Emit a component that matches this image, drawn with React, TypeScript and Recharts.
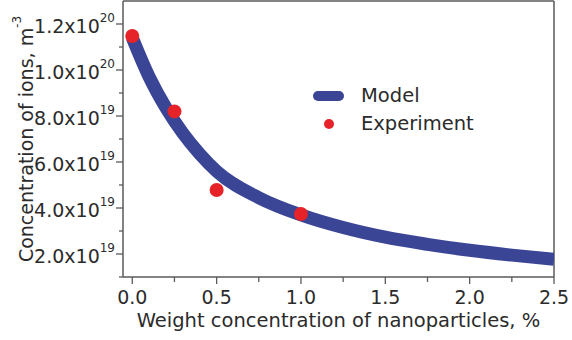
import React from 'react';
import { ComposedChart, Line, Scatter, XAxis, YAxis, ReferenceLine, Legend } from 'recharts';

const modelX = [0, 0.1, 0.2, 0.3, 0.4, 0.5, 0.75, 1.0, 1.25, 1.5, 1.75, 2.0, 2.25, 2.5];
const modelY = [1.14e20, 0.97e20, 0.835e20, 0.725e20, 0.635e20, 0.56e20, 0.445e20, 0.37e20, 0.315e20, 0.273e20, 0.242e20, 0.216e20, 0.195e20, 0.177e20];
const expX = [0, 0.25, 0.5, 1.0];
const expY = [1.148e20, 0.82e20, 0.478e20, 0.374e20];

const xMajorTicks = [0, 0.5, 1.0, 1.5, 2.0, 2.5];
const xTickLabels = ['0.0', '0.5', '1.0', '1.5', '2.0', '2.5'];
const xMinorTicks = [0.25, 0.75, 1.25, 1.75, 2.25];

const yMajorTicks = [2e19, 4e19, 6e19, 8e19, 1e20, 1.2e20];
const yMantissas = ['2.0', '4.0', '6.0', '8.0', '1.0', '1.2'];
const yExponents = ['19', '19', '19', '19', '20', '20'];
const yMinorTicks = [1e19, 3e19, 5e19, 7e19, 9e19, 1.1e20];

const X_DOMAIN: [number, number] = [-0.055, 2.5];
const Y_DOMAIN: [number, number] = [1e19, 1.3e20];

const modelData = modelX.map((x, i) => ({ x, y: modelY[i] }));
const expData = expX.map((x, i) => ({ x, y: expY[i] }));
const xTicks = [...xMajorTicks, ...xMinorTicks].sort((a, b) => a - b);
const yTicks = [...yMajorTicks, ...yMinorTicks].sort((a, b) => a - b);

const FONT = "'DejaVu Sans', sans-serif";
const TEXT = '#2b2b2b';
const AXIS = '#5a5a5a';
const BLUE = '#3b4596';
const RED = '#e52329';

const YTick = (props: any) => {
  const { x, y, payload } = props;
  const v = payload.value;
  const idx = yMajorTicks.findIndex((t) => Math.abs(t - v) < 1e15);
  if (idx < 0) {
    return <line x1={x - 4} x2={x} y1={y} y2={y} stroke={AXIS} strokeWidth={1.3} />;
  }
  return (
    <g>
      <line x1={x - 7} x2={x} y1={y} y2={y} stroke={AXIS} strokeWidth={1.3} />
      <text x={x - 8} y={y + 9} textAnchor="end" fontFamily={FONT} fontSize={19} fill={TEXT}>
        {yMantissas[idx]}x10
        <tspan dy={-11} fontSize={12}>{yExponents[idx]}</tspan>
      </text>
    </g>
  );
};

const XTick = (props: any) => {
  const { x, y, payload } = props;
  const v = payload.value;
  const idx = xMajorTicks.findIndex((t) => Math.abs(t - v) < 1e-6);
  if (idx < 0) {
    return <line x1={x} x2={x} y1={y} y2={y + 5} stroke={AXIS} strokeWidth={1.3} />;
  }
  return (
    <g>
      <line x1={x} x2={x} y1={y} y2={y + 7} stroke={AXIS} strokeWidth={1.3} />
      <text x={x} y={y + 27} textAnchor="middle" fontFamily={FONT} fontSize={19} fill={TEXT}>
        {xTickLabels[idx]}
      </text>
    </g>
  );
};

const XLabel = (props: any) => {
  const vb = props.viewBox;
  return (
    <text x={vb.x + vb.width / 2} y={vb.y + 50} textAnchor="middle" fontFamily={FONT} fontSize={19.5} fill={TEXT}>
      Weight concentration of nanoparticles, %
    </text>
  );
};

const YLabel = (props: any) => {
  const vb = props.viewBox;
  const cy = vb.y + vb.height / 2;
  return (
    <text transform={`translate(33, ${cy}) rotate(-90)`} x={0} y={0} textAnchor="middle" fontFamily={FONT} fontSize={19} fill={TEXT}>
      Concentration of ions, m
      <tspan dy={-12} fontSize={12}>-3</tspan>
    </text>
  );
};

const LegendContent = () => (
  <div style={{ fontFamily: FONT, fontSize: 19.5, color: TEXT }}>
    <div style={{ display: 'flex', alignItems: 'center', height: 28 }}>
      <div style={{ width: 31, display: 'flex', justifyContent: 'center' }}>
        <div style={{ width: 31, height: 10, borderRadius: 5, background: BLUE }} />
      </div>
      <span style={{ marginLeft: 17, lineHeight: '28px' }}>Model</span>
    </div>
    <div style={{ display: 'flex', alignItems: 'center', height: 28 }}>
      <div style={{ width: 31, display: 'flex', justifyContent: 'center' }}>
        <div style={{ width: 10, height: 10, borderRadius: 5, background: RED }} />
      </div>
      <span style={{ marginLeft: 17, lineHeight: '28px' }}>Experiment</span>
    </div>
  </div>
);

const RedDot = (props: any) => <circle cx={props.cx} cy={props.cy} r={7} fill={RED} />;

export default function App() {
  return (
    <div style={{ position: 'absolute', left: 0, top: 0, width: 572, height: 340, background: '#fff' }}>
      <ComposedChart width={572} height={340} margin={{ top: 1, right: 18, bottom: 0, left: 0 }}>
        <XAxis
          type="number"
          dataKey="x"
          domain={X_DOMAIN}
          allowDataOverflow
          ticks={xTicks}
          interval={0}
          tick={<XTick />}
          tickLine={false}
          tickSize={0}
          tickMargin={0}
          height={63}
          axisLine={{ stroke: AXIS, strokeWidth: 1.5 }}
          label={<XLabel />}
        />
        <YAxis
          type="number"
          dataKey="y"
          domain={Y_DOMAIN}
          allowDataOverflow
          ticks={yTicks}
          interval={0}
          tick={<YTick />}
          tickLine={false}
          tickSize={0}
          tickMargin={0}
          width={123}
          axisLine={{ stroke: AXIS, strokeWidth: 1.5 }}
          label={<YLabel />}
        />
        <ReferenceLine y={Y_DOMAIN[1]} stroke={AXIS} strokeWidth={1.5} />
        <ReferenceLine x={X_DOMAIN[1]} stroke={AXIS} strokeWidth={1.5} />
        <Line
          data={modelData}
          dataKey="y"
          type="monotone"
          stroke={BLUE}
          strokeWidth={13}
          dot={false}
          activeDot={false}
          isAnimationActive={false}
          legendType="none"
        />
        <Scatter data={expData} dataKey="y" shape={<RedDot />} isAnimationActive={false} legendType="none" />
        <Legend
          layout="vertical"
          align="center"
          verticalAlign="middle"
          content={<LegendContent />}
          wrapperStyle={{ position: 'absolute', left: 313, top: 82, width: 'auto' }}
        />
      </ComposedChart>
    </div>
  );
}
